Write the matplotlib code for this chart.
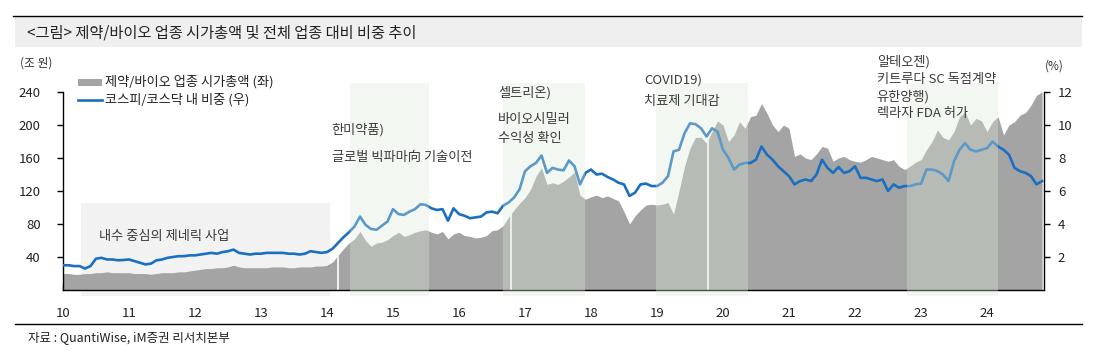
import numpy as np
import matplotlib
matplotlib.use("Agg")
import matplotlib.pyplot as plt
from matplotlib.patches import Rectangle
from matplotlib.lines import Line2D
import matplotlib.transforms as mtransforms

plt.rcParams['font.family'] = ['Noto Sans CJK KR', 'DejaVu Sans']

# ---------------- data (monthly, Jan 2010 - Nov 2024) ----------------
start_year = 2010
mcap = [  # 제약/바이오 업종 시가총액 (조 원)
    20, 20, 19, 19, 20, 20, 21, 21, 22, 21, 21, 21,            # 2010
    21, 20, 20, 20, 19, 20, 21, 21, 21, 22, 22, 23,            # 2011
    24, 25, 26, 26, 27, 27, 28, 30, 28, 27, 27, 27,            # 2012
    27, 27, 28, 28, 28, 27, 27, 28, 28, 28, 29, 29,            # 2013
    30, 34, 42, 50, 57, 62, 71, 60, 53, 57, 58, 61,            # 2014
    66, 70, 65, 67, 70, 72, 73, 70, 68, 71, 62, 68,            # 2015
    70, 66, 65, 63, 64, 66, 72, 73, 78, 88, 97, 105,           # 2016
    112, 122, 138, 148, 128, 130, 128, 132, 137, 143, 115, 110,  # 2017
    113, 115, 112, 114, 111, 108, 95, 80, 90, 97, 103, 104,    # 2018
    103, 104, 106, 92, 120, 150, 172, 185, 185, 178, 192, 205,  # 2019
    200, 180, 188, 204, 196, 210, 212, 226, 214, 200, 192, 200,  # 2020
    196, 162, 165, 160, 158, 165, 174, 172, 156, 160, 162, 158,  # 2021
    156, 155, 158, 162, 160, 158, 156, 158, 150, 146, 150, 155,  # 2022
    158, 170, 180, 194, 185, 182, 192, 210, 216, 200, 208, 205,  # 2023
    192, 204, 210, 188, 200, 204, 212, 215, 224, 236, 240,       # 2024
]
weight = [  # 코스피/코스닥 내 비중 (%)
    1.5, 1.5, 1.45, 1.45, 1.3, 1.45, 1.9, 1.95, 1.85, 1.85, 1.8, 1.82,
    1.85, 1.75, 1.65, 1.55, 1.6, 1.8, 1.85, 1.95, 2.0, 2.05, 2.05, 2.1,
    2.1, 2.15, 2.2, 2.25, 2.2, 2.3, 2.35, 2.45, 2.25, 2.2, 2.15, 2.2,
    2.2, 2.25, 2.25, 2.25, 2.25, 2.2, 2.2, 2.15, 2.2, 2.35, 2.3, 2.25,
    2.3, 2.5, 2.85, 3.2, 3.5, 3.85, 4.45, 3.95, 3.7, 3.65, 3.9, 4.15,
    4.9, 4.6, 4.55, 4.75, 4.9, 5.2, 5.15, 4.95, 4.85, 4.9, 4.2, 4.95,
    4.6, 4.5, 4.35, 4.4, 4.45, 4.7, 4.75, 4.65, 5.1, 5.3, 5.6, 6.1,
    7.2, 7.5, 7.7, 8.15, 7.1, 7.4, 7.3, 7.25, 7.85, 7.5, 6.4, 7.1,
    7.3, 7.0, 7.05, 6.85, 6.7, 6.5, 6.4, 5.7, 5.9, 6.4, 6.45, 6.3,
    6.3, 6.5, 6.9, 8.4, 8.5, 9.5, 10.1, 10.05, 9.8, 9.3, 9.8, 9.6,
    8.5, 8.0, 7.3, 7.6, 7.7, 7.7, 7.9, 8.7, 8.2, 7.9, 7.5, 7.2,
    6.9, 6.4, 6.6, 6.7, 6.6, 7.0, 7.9, 7.4, 7.1, 7.45, 7.1, 7.2,
    7.5, 6.8, 6.8, 6.7, 6.6, 6.7, 6.0, 6.4, 6.2, 6.3, 6.3, 6.4,
    6.45, 7.3, 7.3, 7.2, 7.0, 6.6, 7.8, 8.5, 8.9, 8.5, 8.4, 8.5,
    8.6, 9.0, 8.7, 8.5, 8.2, 7.4, 7.2, 7.1, 6.9, 6.4, 6.6,
]
data_gaps = [2014.16, 2016.79, 2019.77]   # days with missing data (white gaps)

year_ticks = list(range(2010, 2025))
year_labels = [str(y % 100) for y in year_ticks]
left_ticks = [40, 80, 120, 160, 200, 240]
right_ticks = [2, 4, 6, 8, 10, 12]

# shaded periods (start, end) and their labels
base_period = (2010.27, 2014.05)
base_label = "내수 중심의 제네릭 사업"
event_periods = [(2014.355, 2015.54), (2016.66, 2017.91), (2018.98, 2020.38), (2022.79, 2024.16)]
event_labels = [
    (2014.07, ["한미약품)", "", "글로벌 빅파마向 기술이전"]),
    (2016.59, ["셀트리온)", "바이오시밀러", "수익성 확인"]),
    (2018.80, ["COVID19)", "치료제 기대감"]),
    (2022.33, ["알테오젠)", "키트루다 SC 독점계약", "유한양행)", "렉라자 FDA 허가"]),
]

# ---------------- figure ----------------
W, H = 1104, 359
fig = plt.figure(figsize=(W / 100, H / 100), dpi=100)
fig.patch.set_facecolor("white")

def fx(px):
    return px / W

def fy(py):
    return 1 - py / H

ax_l, ax_r, ax_t, ax_b = 63, 1044, 92, 290
ax = fig.add_axes([fx(ax_l), fy(ax_b), fx(ax_r - ax_l), (ax_b - ax_t) / H])
ax2 = ax.twinx()

dates = start_year + np.arange(len(mcap)) / 12.0
mcap_a = np.array(mcap, dtype=float)
weight_a = np.array(weight, dtype=float)

gray = "#a4a4a4"
blue = "#1a6fc0"
txt = "#3a3a3a"

ax.set_zorder(1)
ax2.set_zorder(2)
ax.patch.set_visible(False)
ax2.patch.set_visible(False)

blend = mtransforms.blended_transform_factory(ax2.transData, ax2.transAxes)

# base gray period box (behind the area)
ax.add_patch(Rectangle((base_period[0], -0.03), base_period[1] - base_period[0], 0.03 + (290 - 203) / 198,
                       transform=mtransforms.blended_transform_factory(ax.transData, ax.transAxes),
                       facecolor="#f2f2f2", edgecolor="none", clip_on=False, zorder=0))
ax.text(2010.55, 65, base_label, fontsize=9.5, color=txt, va="center", ha="left", zorder=5)

ax.fill_between(dates, 0, mcap_a, color=gray, linewidth=0, zorder=2)
gap_vals = np.interp(data_gaps, dates, mcap_a)
ax.vlines(data_gaps, 0, gap_vals, colors="white", linewidth=1.2, zorder=3)

ax2.plot(dates, weight_a, color=blue, linewidth=1.9, zorder=3)

# event boxes overlay (semi transparent)
for s, e in event_periods:
    ax2.add_patch(Rectangle((s, -0.03), e - s, 1.075, transform=blend,
                            facecolor=(222 / 255, 234 / 255, 216 / 255), alpha=0.34,
                            edgecolor="none", clip_on=False, zorder=4))

# event texts (figure pixel y positions from top)
text_rows = {
    0: [130, 143, 157],
    1: [93, 119, 139],
    2: [80, 102],
    3: [62, 80, 97, 113],
}
tf = mtransforms.blended_transform_factory(ax2.transData, fig.transFigure)
for i, (x0, lines) in enumerate(event_labels):
    for j, line in enumerate(lines):
        if not line:
            continue
        ax2.text(x0, fy(text_rows[i][j]), line, transform=tf,
                 fontsize=9.5, color=txt, va="center", ha="left", zorder=6)

# axes formatting
ax.set_xlim(2010, dates[-1] + 0.03)
ax.set_ylim(0, 240)
ax2.set_ylim(0, 12)
ax.set_xticks(year_ticks)
ax.set_xticklabels(year_labels)
ax.set_yticks(left_ticks)
ax2.set_yticks(right_ticks)
ax.spines["top"].set_visible(False)
ax2.spines["top"].set_visible(False)
ax.spines["right"].set_visible(False)
ax2.spines["left"].set_visible(False)
ax2.spines["bottom"].set_visible(False)
for a in (ax, ax2):
    for sp in a.spines.values():
        sp.set_linewidth(1.0)
        sp.set_color("black")
        sp.set_zorder(7)

ax.tick_params(axis="x", direction="in", length=4, width=1, pad=12, labelsize=9.5, colors="black")
ax.tick_params(axis="y", direction="out", length=4, width=1, pad=12, labelsize=9.5)
ax2.tick_params(axis="y", direction="out", length=4, width=1, pad=6, labelsize=9.5)
for lab in ax.get_xticklabels() + ax.get_yticklabels() + ax2.get_yticklabels():
    lab.set_color("#222222")

# title bar
fig.add_artist(Rectangle((fx(15), fy(47)), fx(1082 - 15), (47 - 17) / H,
                         transform=fig.transFigure, facecolor="#efefef", edgecolor="none", zorder=0))
fig.add_artist(Line2D([fx(13), fx(1082)], [fy(16), fy(16)], transform=fig.transFigure,
                      color="black", linewidth=1.0))
fig.text(fx(27), fy(33), "<그림> 제약/바이오 업종 시가총액 및 전체 업종 대비 비중 추이",
         fontsize=11, color="#222222", va="center", ha="left")

# unit labels
fig.text(fx(20), fy(63), "(조 원)", fontsize=8.5, color="#333333", va="center", ha="left")
fig.text(fx(1045), fy(66), "(%)", fontsize=8.5, color="#333333", va="center", ha="left")

# legend
fig.add_artist(Rectangle((fx(78), fy(86)), fx(24), 7 / H, transform=fig.transFigure,
                         facecolor=gray, edgecolor="none"))
fig.text(fx(105), fy(82), "제약/바이오 업종 시가총액 (좌)", fontsize=9.5, color="#222222", va="center", ha="left")
fig.add_artist(Line2D([fx(78), fx(102)], [fy(100), fy(100)], transform=fig.transFigure,
                      color=blue, linewidth=1.9))
fig.text(fx(105), fy(100), "코스피/코스닥 내 비중 (우)", fontsize=9.5, color="#222222", va="center", ha="left")

# bottom rule and source
fig.add_artist(Line2D([fx(15), fx(1082)], [fy(324), fy(324)], transform=fig.transFigure,
                      color="black", linewidth=1.0))
fig.text(fx(28), fy(338), "자료 : QuantiWise, iM증권 리서치본부", fontsize=9, color="#222222",
         va="center", ha="left")

fig.savefig("out.png", dpi=100)
